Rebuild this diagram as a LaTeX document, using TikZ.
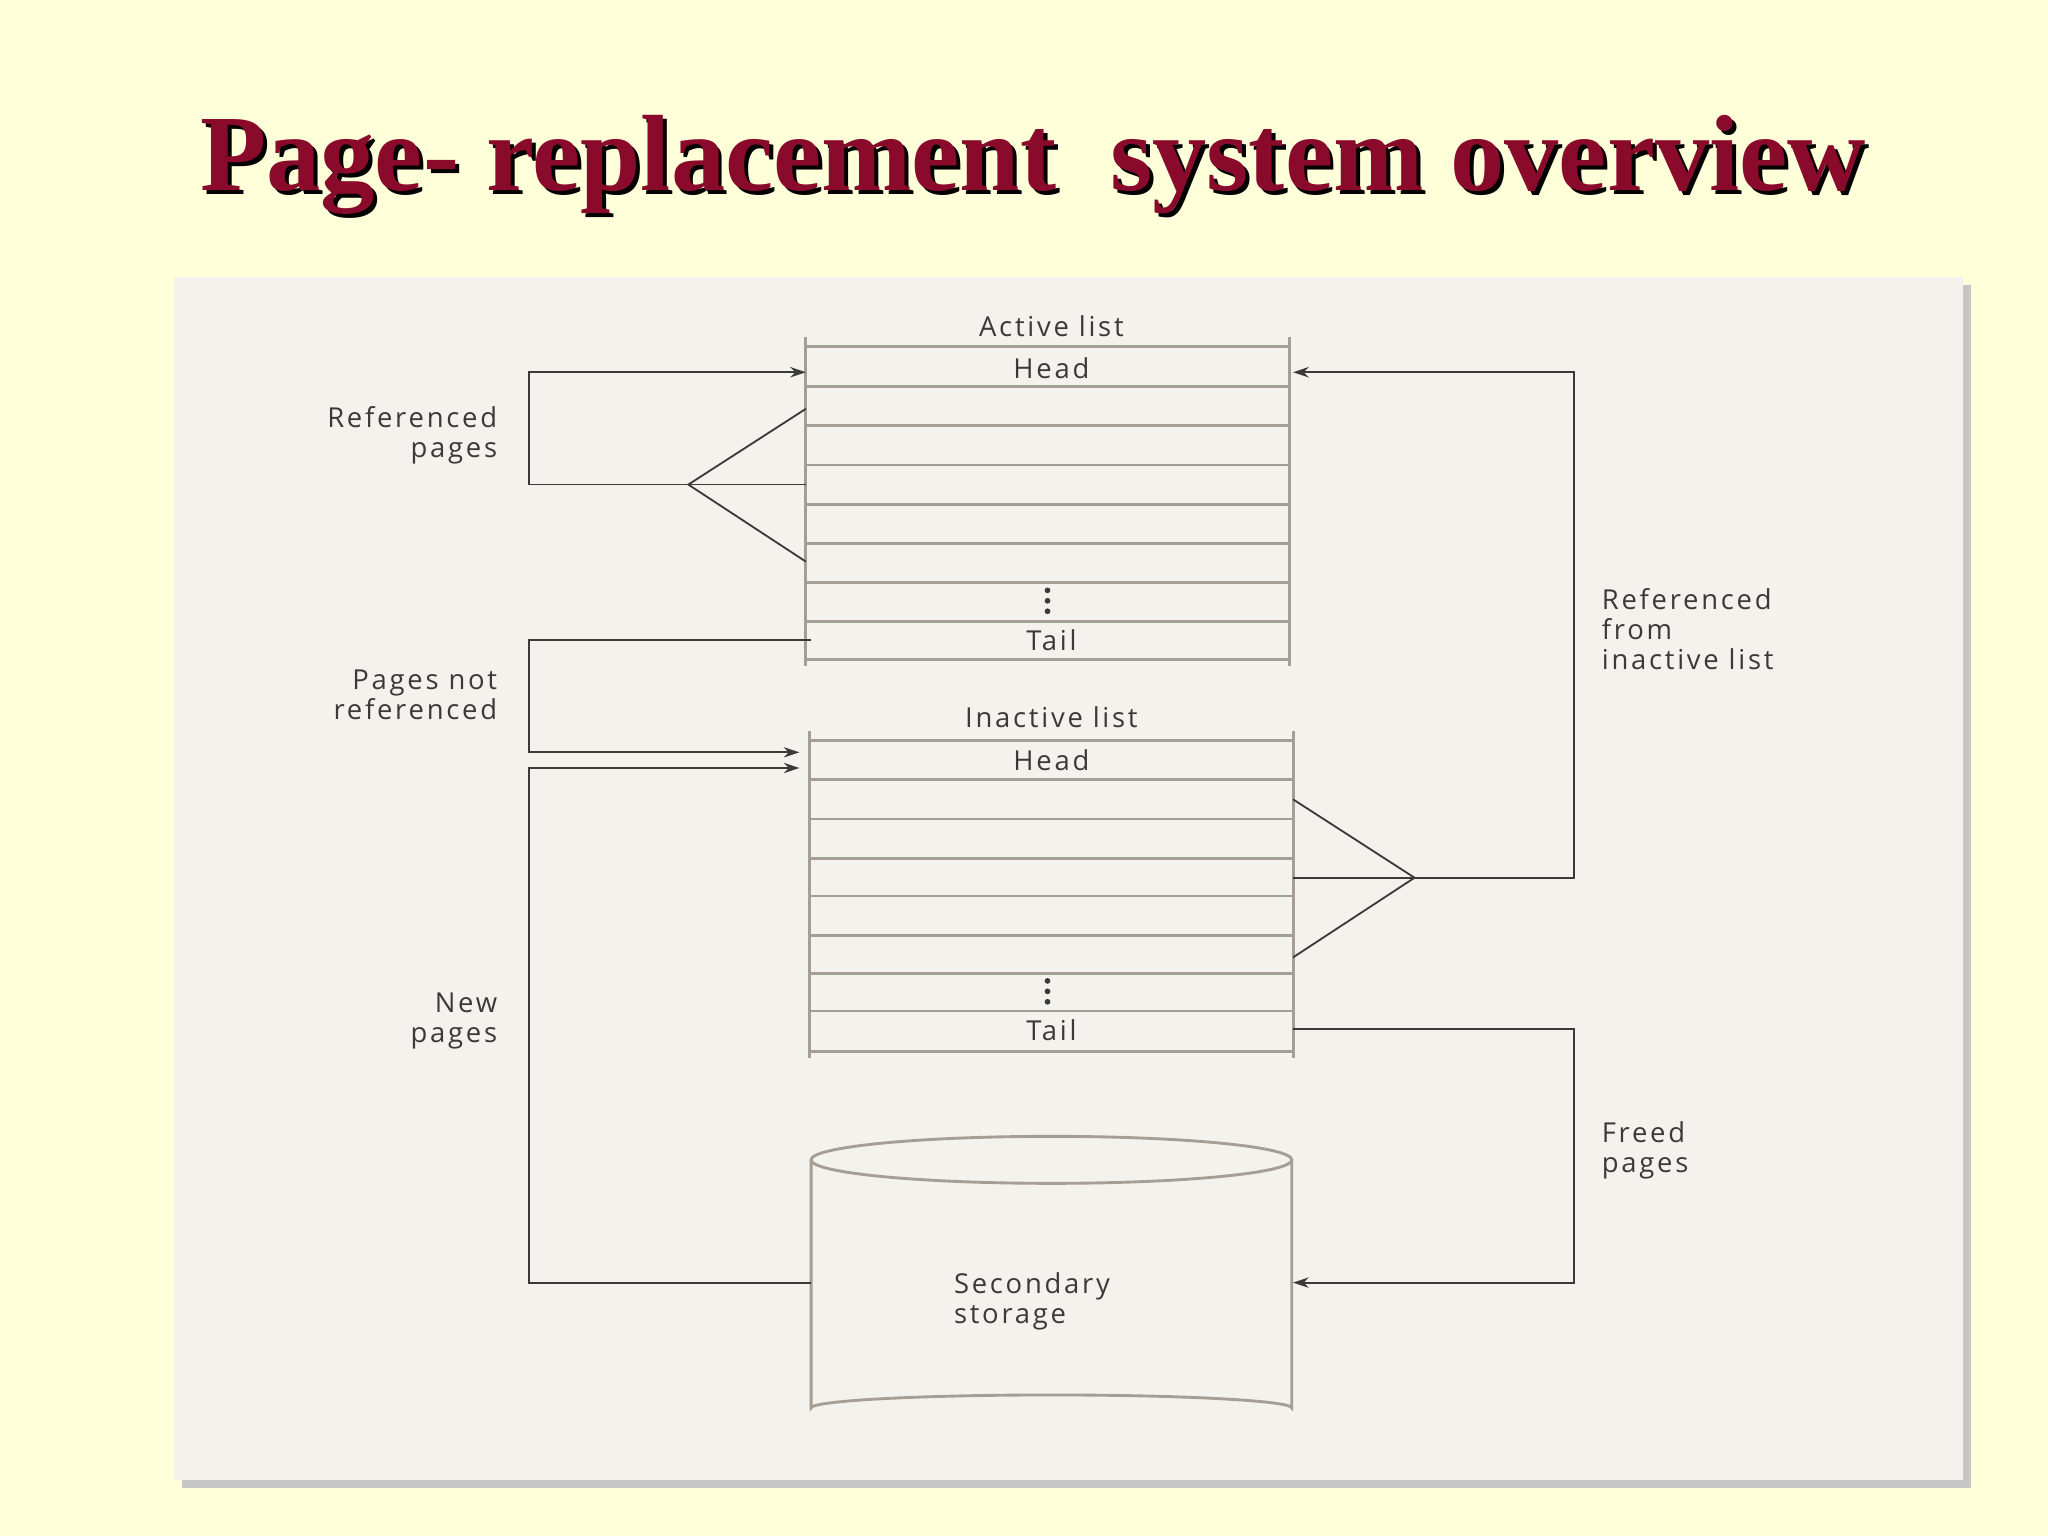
\documentclass[tikz,border=0pt]{standalone}
\usepackage{fontspec}
\setmainfont{Open Sans}
\newfontfamily\titlefont{Liberation Serif}
\usetikzlibrary{arrows.meta}
\definecolor{bgy}{HTML}{FFFFDA}
\definecolor{panel}{HTML}{F4F2EC}
\definecolor{ttl}{HTML}{8A0A2C}
\definecolor{rowc}{HTML}{A69E94}
\definecolor{lnc}{HTML}{3A3A3A}
\tikzset{
  conn/.style={draw=lnc, line width=0.7pt},
  arr/.style={conn, -{Stealth[length=6pt,width=4pt]}},
  rowl/.style={draw=rowc, line width=1.1pt},
  lbl/.style={font=\fontsize{10.5}{11.5}\selectfont\addfontfeatures{LetterSpace=10}, text=lnc, inner sep=0pt},
  lblr/.style={lbl, align=right, anchor=east},
  lbll/.style={lbl, align=left, anchor=west},
  dotsl/.style={circle, fill=lnc, inner sep=0pt, minimum size=2.2pt}
}
\begin{document}
\begin{tikzpicture}[x=0.5pt,y=-0.5pt]
\useasboundingbox (0,0) rectangle (1568,1176);
\fill[bgy] (0,0) rectangle (1568,1176);
\fill[gray!45] (139,218) rectangle (1509,1139);
\fill[panel] (133,212) rectangle (1503,1133);
\node[text=black, font=\titlefont\bfseries\fontsize{41.5}{46}\selectfont] at (794,129) {Page- replacement\ \ system overview};
\node (title) [text=ttl, font=\titlefont\bfseries\fontsize{41.5}{46}\selectfont] at (791,126) {Page- replacement\ \ system overview};
% active list
\foreach \y in {265,296,326,356,386,416,446,476,505} \draw[rowl] (617,\y) -- (987,\y);
\draw[rowl] (617,258) -- (617,510); \draw[rowl] (987,258) -- (987,510);
\node[lbl] (al) at (805,250) {Active list};
\node[lbl] (ah) at (805,282) {Head};
\node[lbl] (at) at (805,490) {Tail};
\foreach \y in {452,460,468} \node[dotsl] at (802,\y) {};
% inactive list
\foreach \y in {567,597,627,657,686,716,745,774,805} \draw[rowl] (620,\y) -- (990,\y);
\draw[rowl] (620,560) -- (620,810); \draw[rowl] (990,560) -- (990,810);
\node[lbl] (il) at (805,549) {Inactive list};
\node[lbl] (ih) at (805,582) {Head};
\node[lbl] (it) at (805,789) {Tail};
\foreach \y in {751,759,767} \node[dotsl] at (802,\y) {};
% cylinder
\draw[rowc, line width=1.1pt] (621,888) -- (621,1078) arc[start angle=180,end angle=360,x radius=184,y radius=10] -- (989,888);
\draw[rowc, line width=1.1pt] (805,888) ellipse[x radius=184, y radius=18];
\node[lbll] (ss) at (730,996) {Secondary\\storage};
% coordinates
\coordinate (a1) at (617,285); \coordinate (a2) at (617,313); \coordinate (a3) at (617,430);
\coordinate (aj) at (527,371); \coordinate (a4) at (617,371); \coordinate (at2) at (621,490);
\coordinate (i1) at (612,576); \coordinate (i2) at (612,588);
\coordinate (c1) at (621,982); \coordinate (c2) at (990,982);
\coordinate (r0) at (990,285); \coordinate (b1) at (990,612); \coordinate (b2) at (990,733);
\coordinate (bj) at (1083,672); \coordinate (bt) at (990,788);
% connectors
\draw[conn] (a2) -- (aj) -- (a3); \draw[conn] (a4) -- (aj);
\draw[arr] (a4) -- (405,371) -- (405,285) -- (a1);
\draw[arr] (at2) -- (405,490) -- (405,576) -- (i1);
\draw[arr] (c1) -- (405,982) -- (405,588) -- (i2);
\draw[conn] (b1) -- (bj) -- (b2); \draw[conn] (990,672) -- (bj);
\draw[arr] (bj) -- (1205,672) -- (1205,285) -- (r0);
\draw[arr] (bt) -- (1205,788) -- (1205,982) -- (c2);
% labels
\node[lblr] (l1) at (381,333) {Referenced\\pages};
\node[lblr] (l2) at (381,532) {Pages not\\referenced};
\node[lblr] (l3) at (381,782) {New\\pages};
\node[lbll] (l4) at (1226,482) {Referenced\\from\\inactive list};
\node[lbll] (l5) at (1226,881) {Freed\\pages};
\end{tikzpicture}
\end{document}
